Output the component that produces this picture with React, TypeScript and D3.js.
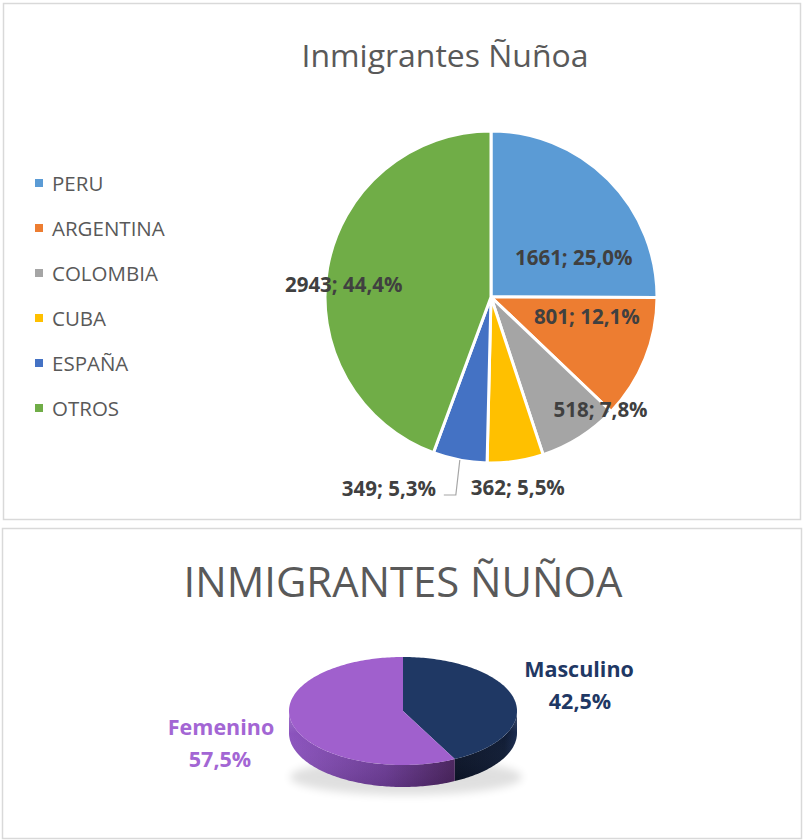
import React from "react";
import * as d3 from "d3";

const countries = ["PERU", "ARGENTINA", "COLOMBIA", "CUBA", "ESPAÑA", "OTROS"];
const counts = [1661, 801, 518, 362, 349, 2943];
const percentLabels = ["25,0%", "12,1%", "7,8%", "5,5%", "5,3%", "44,4%"];
const countryColors = ["#5B9BD5", "#ED7D31", "#A5A5A5", "#FFC000", "#4472C4", "#70AD47"];

// label placement (polar, degrees clockwise from 12 o'clock, fraction of radius)
const labelAngles = [65, 102, 136, 172, 208, 274.6];
const labelRadii = [0.55, 0.59, 0.95, 1.16, 1.31, 0.89];

const genders = ["Masculino", "Femenino"];
const genderShares = [42.5, 57.5];
const genderLabels = ["42,5%", "57,5%"];
const genderTop = ["#1F3864", "#A060CD"];
const genderText = ["#1F3864", "#A366D4"];

const FONT = "'Open Sans', 'DejaVu Sans', sans-serif";

export default function App() {
  // ---------- top chart ----------
  const cx = 491, cy = 297, R = 166;
  const pie = d3.pie<number>().sort(null).startAngle(0).endAngle(2 * Math.PI);
  const arcs = pie(counts);
  const arcGen = d3.arc<d3.PieArcDatum<number>>().innerRadius(0).outerRadius(R);
  const toDeg = (d: number) => (d * Math.PI) / 180;
  const polar = (angRad: number, r: number): [number, number] => [
    cx + r * Math.sin(angRad),
    cy - r * Math.cos(angRad),
  ];

  const legendY = d3.scalePoint<string>().domain(countries).range([183, 408]);

  // España leader line
  const esp = arcs[4];
  const espMid = (esp.startAngle + esp.endAngle) / 2;
  const [lx0, ly0] = polar(espMid, R);
  const [, lblY] = polar(toDeg(labelAngles[4]), R * labelRadii[4]);

  // ---------- bottom 3D chart ----------
  const ex = 403, ey = 711, rx = 114, ry = 54, depth = 22;
  const gPie = d3.pie<number>().sort(null).startAngle(0).endAngle(2 * Math.PI);
  const gArcs = gPie(genderShares);
  const ept = (a: number, dy = 0): [number, number] => [
    ex + rx * Math.sin(a),
    ey - ry * Math.cos(a) + dy,
  ];
  const sample = (a0: number, a1: number, dy = 0) => {
    const n = Math.max(2, Math.ceil(Math.abs(a1 - a0) / 0.02));
    return d3.range(n + 1).map((i) => ept(a0 + ((a1 - a0) * i) / n, dy));
  };
  const line = d3.line();
  const topPath = (a0: number, a1: number) =>
    line([[ex, ey], ...sample(a0, a1)])! + "Z";
  const sidePath = (a0: number, a1: number) => {
    const s = Math.max(a0, Math.PI / 2);
    const e = Math.min(a1, (3 * Math.PI) / 2);
    if (e <= s) return null;
    return line([...sample(s, e), ...sample(e, s, depth)])! + "Z";
  };

  return (
    <svg
      width={803}
      height={840}
      style={{ position: "absolute", left: 0, top: 0, background: "#fff" }}
      fontFamily={FONT}
    >
      <defs>
        <linearGradient id="femSide" x1="289" x2="463" y1="0" y2="0" gradientUnits="userSpaceOnUse">
          <stop offset="0" stopColor="#8C54BE" />
          <stop offset="0.55" stopColor="#6E3D98" />
          <stop offset="1" stopColor="#452057" />
        </linearGradient>
        <linearGradient id="mascSide" x1="455" x2="517" y1="0" y2="0" gradientUnits="userSpaceOnUse">
          <stop offset="0" stopColor="#0B1428" />
          <stop offset="0.8" stopColor="#0F1B34" />
          <stop offset="1" stopColor="#1A2B4F" />
        </linearGradient>
        <linearGradient id="sideShade" x1="0" x2="0" y1="0" y2="1">
          <stop offset="0" stopColor="#fff" stopOpacity="0.2" />
          <stop offset="0.3" stopColor="#fff" stopOpacity="0" />
          <stop offset="1" stopColor="#000" stopOpacity="0.1" />
        </linearGradient>
        <filter id="blur" x="-20%" y="-50%" width="140%" height="200%">
          <feGaussianBlur stdDeviation="4" />
        </filter>
      </defs>

      {/* ===== top chart frame ===== */}
      <rect x={3.5} y={3.5} width={797} height={516} fill="#fff" stroke="#D9D9D9" strokeWidth={1.5} />
      <text x={445} y={67} textAnchor="middle" fontSize={31} fill="#595959" textLength={287} lengthAdjust="spacingAndGlyphs">
        Inmigrantes Ñuñoa
      </text>

      {/* legend */}
      {countries.map((c, i) => (
        <g key={c}>
          <rect x={35} y={legendY(c)! - 4} width={8} height={8} fill={countryColors[i]} />
          <text x={52} y={legendY(c)! + 7.5} fontSize={20.5} fill="#595959">
            {c}
          </text>
        </g>
      ))}

      {/* pie */}
      <g transform={`translate(${cx},${cy})`}>
        {arcs.map((a, i) => (
          <path key={i} d={arcGen(a)!} fill={countryColors[i]} stroke="#fff" strokeWidth={3} strokeLinejoin="round" />
        ))}
      </g>

      {/* leader line for España */}
      <polyline
        points={`${lx0},${ly0} ${lx0 - 4},${lblY + 6} ${lx0 - 16},${lblY + 6}`}
        fill="none"
        stroke="#A6A6A6"
        strokeWidth={1.2}
      />

      {arcs.map((a, i) => {
        const [x, y] = polar(toDeg(labelAngles[i]), R * labelRadii[i]);
        return (
          <text key={i} x={x} y={y + 7} textAnchor="middle" fontSize={20.5} fontWeight={700} fill="#404040">
            {`${counts[i]}; ${percentLabels[i]}`}
          </text>
        );
      })}

      {/* ===== bottom chart frame ===== */}
      <rect x={2.5} y={528.5} width={799} height={310} fill="#fff" stroke="#D9D9D9" strokeWidth={1.5} />
      <text x={403} y={597} textAnchor="middle" fontSize={42} fill="#595959" textLength={439} lengthAdjust="spacingAndGlyphs">
        INMIGRANTES ÑUÑOA
      </text>

      {/* shadow */}
      <ellipse cx={ex + 3} cy={ey + ry + depth - 10} rx={rx + 2} ry={18} fill="#000" opacity={0.12} filter="url(#blur)" />

      {/* sides */}
      {gArcs.map((a, i) => {
        const p = sidePath(a.startAngle, a.endAngle);
        return p ? (
          <g key={"s" + i}>
            <path d={p} fill={i === 0 ? "url(#mascSide)" : "url(#femSide)"} />
            <path d={p} fill="url(#sideShade)" />
          </g>
        ) : null;
      })}
      {/* tops */}
      {gArcs.map((a, i) => (
        <path key={"t" + i} d={topPath(a.startAngle, a.endAngle)} fill={genderTop[i]} />
      ))}

      {/* labels */}
      <text x={579} y={677} textAnchor="middle" fontSize={21.5} fontWeight={700} fill={genderText[0]}>
        {genders[0]}
      </text>
      <text x={580} y={709} textAnchor="middle" fontSize={21.5} fontWeight={700} fill={genderText[0]}>
        {genderLabels[0]}
      </text>
      <text x={221} y={735} textAnchor="middle" fontSize={21.5} fontWeight={700} fill={genderText[1]}>
        {genders[1]}
      </text>
      <text x={220} y={767} textAnchor="middle" fontSize={21.5} fontWeight={700} fill={genderText[1]}>
        {genderLabels[1]}
      </text>
    </svg>
  );
}
